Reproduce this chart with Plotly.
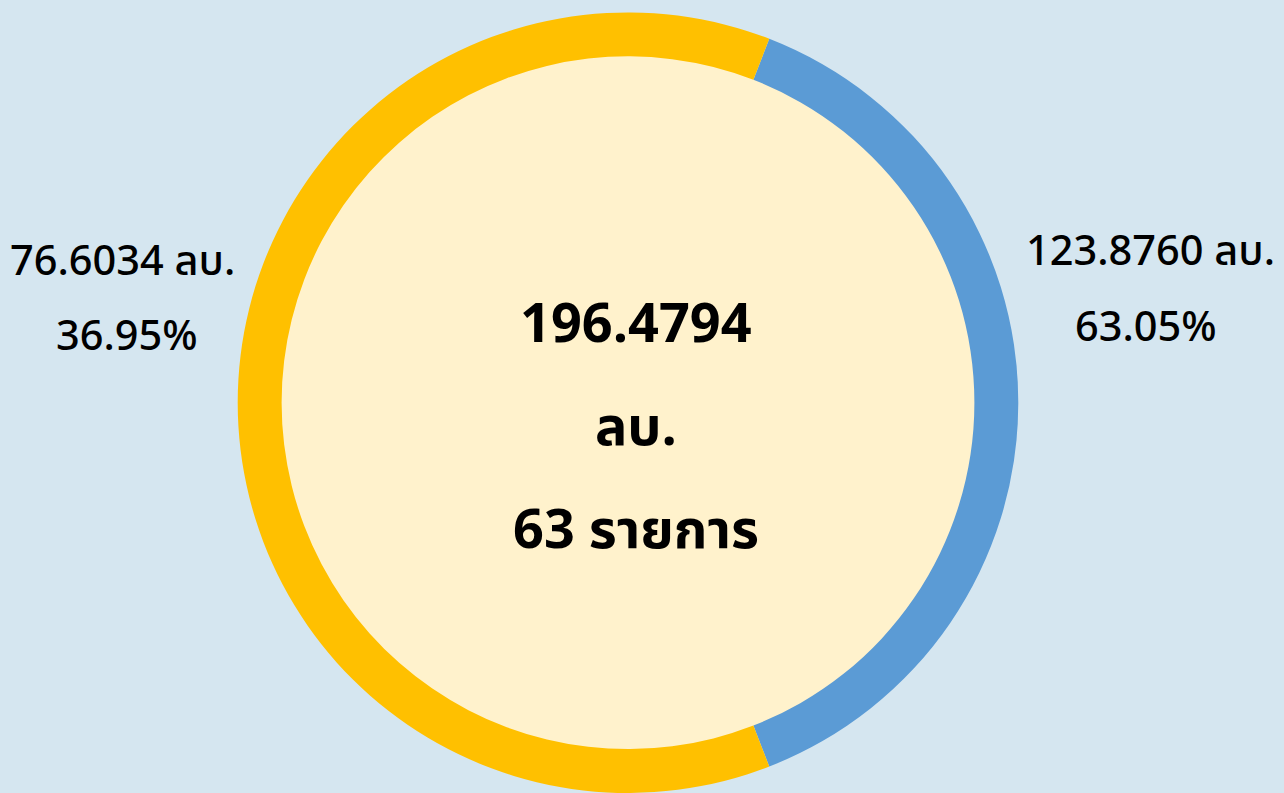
import plotly.graph_objects as go

# ---- data ----
slice_names = ["ส่วนที่ 1", "ส่วนที่ 2"]
slice_values = [76.6034, 123.8760]          # blue arc, yellow arc (as drawn)
slice_colors = ["#5B9BD5", "#FFC000"]
center_lines = ["196.4794", "ลบ.", "63 รายการ"]
left_lines = ["76.6034 ลบ.", "36.95%"]
right_lines = ["123.8760 ลบ.", "63.05%"]

W, H = 1284, 793
FONT = "Noto Sans Thai, Noto Sans Thai UI, Loma, Garuda, Noto Sans, sans-serif"

# geometry (pixels)
cx, cy_top = 628, 12.4
R = 391
cy = cy_top + R
hole = 0.8875

total = sum(slice_values)
rotation = 90 - 0.5 * 360 * slice_values[0] / total

fig = go.Figure()
fig.add_trace(go.Pie(
    labels=slice_names, values=slice_values, sort=False,
    direction="clockwise", rotation=rotation, hole=hole,
    marker=dict(colors=slice_colors, line=dict(width=0)),
    textinfo="none", hoverinfo="label+value", showlegend=False,
    domain=dict(x=[(cx - R) / W, (cx + R) / W],
                y=[max(0, 1 - (cy_top + 2 * R) / H), 1 - cy_top / H]),
))

# cream inner disc
ri = R * hole + 4
fig.add_shape(type="circle", xref="paper", yref="paper", layer="below",
              x0=(cx - ri) / W, x1=(cx + ri) / W,
              y0=1 - (cy + ri) / H, y1=1 - (cy - ri) / H,
              fillcolor="#FFF2CC", line=dict(width=0))

def ann(text, x, y, size, weight="normal"):
    fig.add_annotation(text=text,
                       x=x / W, y=1 - y / H, xref="paper", yref="paper",
                       xanchor="center", yanchor="middle", showarrow=False,
                       font=dict(family=FONT, size=size, color="#000000", weight=weight))

for t, y in zip(center_lines, [325, 428, 531]):
    ann(t, 636, y, 54, weight="bold")
for t, (x, y) in zip(left_lines, [(122, 262), (127, 337)]):
    ann(t, x, y, 41.5, weight=500)
for t, (x, y) in zip(right_lines, [(1150, 252), (1146, 329)]):
    ann(t, x, y, 41.5, weight=500)

fig.update_layout(width=W, height=H, margin=dict(l=0, r=0, t=0, b=0),
                  paper_bgcolor="#D5E6F0", plot_bgcolor="#D5E6F0")
fig.write_html("out.html", config={"displayModeBar": False},
               post_script="document.body.style.margin='0';document.body.style.background='#D5E6F0';")
